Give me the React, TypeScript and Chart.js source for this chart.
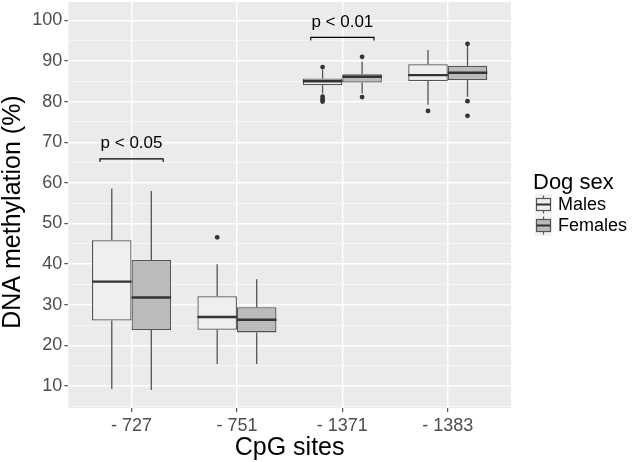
import React, { useEffect, useRef } from 'react';
import { Chart, registerables } from 'chart.js';

Chart.register(...registerables);

const categories = ['- 727', '- 751', '- 1371', '- 1383'];
const seriesNames = ['Males', 'Females'];

const malesLow = [9.3, 15.4, 82.0, 79.2];
const malesQ1 = [26.1, 23.85, 84.0, 85.05];
const malesMedian = [35.7, 27.0, 85.0, 86.5];
const malesQ3 = [45.9, 32.1, 85.7, 89.2];
const malesHigh = [58.6, 40.0, 87.8, 92.7];
const malesOutliers = [[], [46.6], [88.5, 81.2, 80.6, 80.0], [77.7]];

const femalesLow = [9.0, 15.4, 82.0, 81.2];
const femalesQ1 = [23.8, 23.2, 84.7, 85.3];
const femalesMedian = [31.8, 26.3, 86.1, 87.1];
const femalesQ3 = [41.0, 29.4, 86.7, 88.8];
const femalesHigh = [58.0, 36.3, 89.8, 93.9];
const femalesOutliers = [[], [], [91.0, 81.1], [94.2, 80.1, 76.5]];

const yMajorTicks = [10, 20, 30, 40, 50, 60, 70, 80, 90, 100];
const yMinorTicks = [5, 15, 25, 35, 45, 55, 65, 75, 85, 95];

const bracketCategory = [0, 2];
const bracketLevel = [65.9, 95.8];
const bracketLabels = ['p < 0.05', 'p < 0.01'];

const FONT = '"Liberation Sans", Arial, sans-serif';

export default function App() {
  const ref = useRef<HTMLCanvasElement>(null);

  useEffect(() => {
    const canvas = ref.current;
    if (!canvas) return;

    const groups = [
      { low: malesLow, q1: malesQ1, med: malesMedian, q3: malesQ3, high: malesHigh, out: malesOutliers, fill: '#efefef' },
      { low: femalesLow, q1: femalesQ1, med: femalesMedian, q3: femalesQ3, high: femalesHigh, out: femalesOutliers, fill: '#bbbbbb' },
    ];

    const boxPlugin = {
      id: 'boxplotExtras',
      beforeDraw(chart: any) {
        const { ctx, chartArea: a } = chart;
        ctx.save();
        ctx.fillStyle = '#ebebeb';
        ctx.fillRect(a.left, a.top, a.right - a.left, a.bottom - a.top);
        ctx.restore();
      },
      beforeDatasetsDraw(chart: any) {
        const { ctx } = chart;
        const ys = chart.scales.y;
        ctx.save();
        ctx.strokeStyle = '#555555';
        ctx.lineWidth = 1.3;
        groups.forEach((g, d) => {
          const meta = chart.getDatasetMeta(d);
          meta.data.forEach((el: any, i: number) => {
            const x = el.x;
            ctx.beginPath();
            ctx.moveTo(x, ys.getPixelForValue(g.high[i]));
            ctx.lineTo(x, ys.getPixelForValue(g.q3[i]));
            ctx.moveTo(x, ys.getPixelForValue(g.q1[i]));
            ctx.lineTo(x, ys.getPixelForValue(g.low[i]));
            ctx.stroke();
          });
        });
        ctx.restore();
      },
      afterDatasetsDraw(chart: any) {
        const { ctx } = chart;
        const ys = chart.scales.y;
        const xs = chart.scales.x;
        ctx.save();
        groups.forEach((g, d) => {
          const meta = chart.getDatasetMeta(d);
          meta.data.forEach((el: any, i: number) => {
            const x = el.x;
            const w = el.width;
            ctx.strokeStyle = '#333333';
            ctx.lineWidth = 2.4;
            ctx.beginPath();
            const ym = ys.getPixelForValue(g.med[i]);
            ctx.moveTo(x - w / 2, ym);
            ctx.lineTo(x + w / 2, ym);
            ctx.stroke();
            ctx.fillStyle = '#333333';
            g.out[i].forEach((v: number) => {
              ctx.beginPath();
              ctx.arc(x, ys.getPixelForValue(v), 2.4, 0, Math.PI * 2);
              ctx.fill();
            });
          });
        });
        // significance brackets
        ctx.strokeStyle = '#000000';
        ctx.lineWidth = 1.1;
        ctx.fillStyle = '#000000';
        ctx.font = `17px ${FONT}`;
        ctx.textAlign = 'center';
        ctx.textBaseline = 'middle';
        bracketCategory.forEach((c, k) => {
          const x0 = xs.getPixelForValue(c + 1 - 0.3);
          const x1 = xs.getPixelForValue(c + 1 + 0.3);
          const y = ys.getPixelForValue(bracketLevel[k]);
          const yd = ys.getPixelForValue(bracketLevel[k] - 0.75);
          ctx.beginPath();
          ctx.moveTo(x0, yd);
          ctx.lineTo(x0, y);
          ctx.lineTo(x1, y);
          ctx.lineTo(x1, yd);
          ctx.stroke();
          ctx.fillText(bracketLabels[k], (x0 + x1) / 2, ys.getPixelForValue(bracketLevel[k] + 3.8));
        });
        ctx.restore();
      },
      afterDraw(chart: any) {
        const { ctx, chartArea: a } = chart;
        ctx.save();
        // y axis title
        ctx.fillStyle = '#000000';
        ctx.font = `25px ${FONT}`;
        ctx.textAlign = 'center';
        ctx.textBaseline = 'middle';
        ctx.translate(13, (a.top + a.bottom) / 2 + 7);
        ctx.rotate(-Math.PI / 2);
        ctx.fillText('DNA methylation (%)', 0, 0);
        ctx.restore();

        // legend
        ctx.save();
        const lx = a.right + 22;
        ctx.fillStyle = '#000000';
        ctx.font = `22px ${FONT}`;
        ctx.textAlign = 'left';
        ctx.textBaseline = 'middle';
        ctx.fillText('Dog sex', lx, 183);
        groups.forEach((g, d) => {
          const cy = 204.5 + d * 21;
          const kx = lx + 2;
          ctx.fillStyle = '#f2f2f2';
          ctx.fillRect(kx, cy - 10.5, 17, 21);
          ctx.strokeStyle = '#555555';
          ctx.lineWidth = 1.2;
          ctx.beginPath();
          ctx.moveTo(kx + 8.5, cy - 9);
          ctx.lineTo(kx + 8.5, cy + 9);
          ctx.stroke();
          ctx.fillStyle = g.fill;
          ctx.fillRect(kx + 1.5, cy - 6, 14, 12);
          ctx.strokeRect(kx + 1.5, cy - 6, 14, 12);
          ctx.strokeStyle = '#333333';
          ctx.lineWidth = 2;
          ctx.beginPath();
          ctx.moveTo(kx + 1.5, cy);
          ctx.lineTo(kx + 15.5, cy);
          ctx.stroke();
          ctx.fillStyle = '#000000';
          ctx.font = `18px ${FONT}`;
          ctx.fillText(seriesNames[d], kx + 23, cy + 1);
        });
        ctx.restore();
      },
    };

    const chart = new Chart(canvas, {
      type: 'bar',
      data: {
        datasets: groups.map((g, d) => ({
          label: seriesNames[d],
          data: categories.map((_, i) => ({ x: i + 1, y: [g.q1[i], g.q3[i]] })),
          backgroundColor: g.fill,
          borderColor: '#555555',
          borderWidth: 1.3,
          borderSkipped: false,
          categoryPercentage: 0.75,
          barPercentage: 1,
        })),
      },
      options: {
        animation: false,
        responsive: true,
        maintainAspectRatio: false,
        events: [],
        layout: { padding: { top: 2, right: 122, left: 0, bottom: 0 } },
        plugins: {
          legend: { display: false },
          tooltip: { enabled: false },
        },
        scales: {
          x: {
            type: 'linear',
            min: 0.4,
            max: 4.6,
            offset: false,
            afterBuildTicks(scale: any) {
              scale.ticks = categories.map((_, i) => ({ value: i + 1 }));
            },
            afterFit(scale: any) {
              scale.height = 54;
              scale.paddingLeft = 0;
              scale.paddingRight = 0;
            },
            ticks: {
              callback: (v: any) => categories[Math.round(Number(v)) - 1] ?? '',
              color: '#4d4d4d',
              font: { family: FONT, size: 18 },
              padding: 3,
              maxRotation: 0,
              autoSkip: false,
            },
            grid: {
              offset: false,
              color: '#ffffff',
              lineWidth: 1.4,
              tickColor: '#333333',
              tickLength: 4,
              tickWidth: 1,
            },
            border: { display: false },
            title: {
              display: true,
              text: 'CpG sites',
              color: '#000000',
              font: { family: FONT, size: 25, lineHeight: 1 },
              padding: { top: 0, bottom: 1 },
            },
          },
          y: {
            min: 4.6,
            max: 104.5,
            afterBuildTicks(scale: any) {
              scale.ticks = [...yMinorTicks, ...yMajorTicks]
                .sort((p, q) => p - q)
                .map((v) => ({ value: v }));
            },
            afterFit(scale: any) {
              scale.width = 68.3;
              scale.paddingTop = 0;
              scale.paddingBottom = 0;
            },
            ticks: {
              callback: (v: any) => (yMajorTicks.includes(Number(v)) ? String(v) : ''),
              color: '#4d4d4d',
              font: { family: FONT, size: 18 },
              padding: 2,
              autoSkip: false,
            },
            grid: {
              color: (c: any) => (yMajorTicks.includes(c.tick?.value) ? '#ffffff' : '#f7f7f7'),
              lineWidth: (c: any) => (yMajorTicks.includes(c.tick?.value) ? 1.4 : 0.9),
              tickColor: (c: any) => (yMajorTicks.includes(c.tick?.value) ? '#333333' : 'rgba(0,0,0,0)'),
              tickLength: 4,
              tickWidth: 1,
            },
            border: { display: false },
          },
        },
      },
      plugins: [boxPlugin],
    } as any);

    return () => chart.destroy();
  }, []);

  return (
    <div style={{ position: 'fixed', left: 0, top: 0, width: 633, height: 462, background: '#ffffff' }}>
      <canvas ref={ref} />
    </div>
  );
}
